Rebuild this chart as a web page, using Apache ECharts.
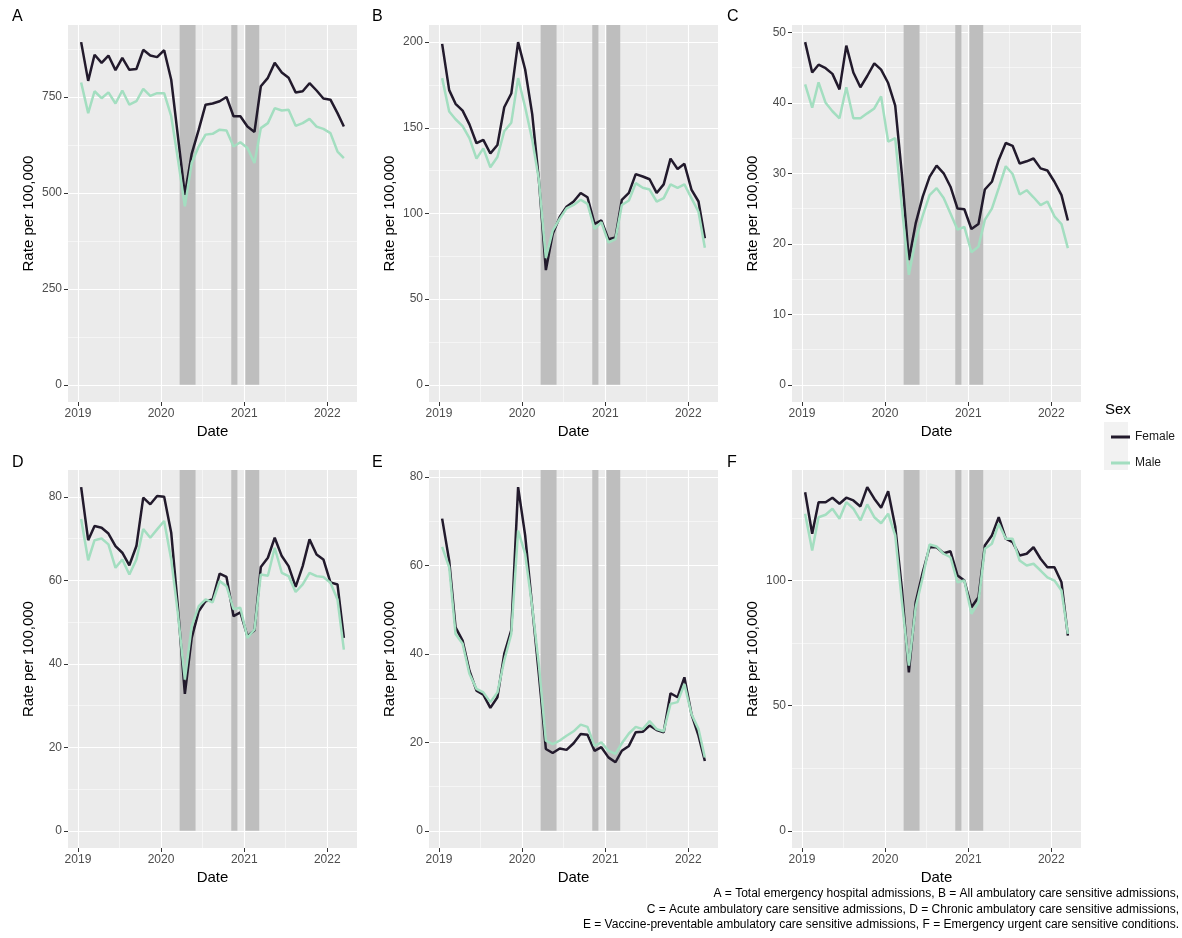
<!DOCTYPE html>
<html><head><meta charset="utf-8">
<script src="https://cdn.jsdelivr.net/npm/echarts@6/dist/echarts.min.js"></script>
<style>html,body{margin:0;padding:0;background:#fff}#c{width:1182px;height:938px}</style>
</head><body><div id="c"></div>
<script>
// ---- data ----
const months = ['2019-01','2019-02','2019-03','2019-04','2019-05','2019-06','2019-07','2019-08','2019-09','2019-10','2019-11','2019-12',
  '2020-01','2020-02','2020-03','2020-04','2020-05','2020-06','2020-07','2020-08','2020-09','2020-10','2020-11','2020-12',
  '2021-01','2021-02','2021-03','2021-04','2021-05','2021-06','2021-07','2021-08','2021-09','2021-10','2021-11','2021-12',
  '2022-01','2022-02','2022-03'];
const lockdowns = [['2020-03-23','2020-06-01'],['2020-11-05','2020-12-02'],['2021-01-06','2021-03-08']];
const yearBreaks = ['2019-01-01','2020-01-01','2021-01-01','2022-01-01'];
const yearMinorBreaks = ['2019-07-02','2020-07-02','2021-07-02'];
const panelLabels = ['A','B','C','D','E','F'];

const femaleA = [893,792,860,839,858,820,852,821,823,873,858,854, 872,795,650,495,602,665,730,733,739,750,700,700, 673,659,778,800,839,814,800,762,765,786,767,746, 743,708,673];
const maleA   = [788,708,765,747,762,733,767,730,739,771,753,760, 760,700,590,465,578,621,652,654,665,663,621,632, 617,578,669,682,721,715,717,675,682,693,673,667, 656,608,591];
const femaleB = [199,172,164,160,152,141,143,135,140,162,170,200, 184,158,120,67,88,98,104,107,112,109.5,94,96, 85,86,108,112,123,121.6,120,112,117,132,126,129, 114,107,85.6];
const maleB   = [179,159.5,155,151,144,132,138,127,133,148,153,179, 162,143,120,74,90,97,103,105,108,105.6,91,95, 83,85,105,107.6,117.7,115,114,107,109,117,115,117, 109,101,80];
const femaleC = [48.6,44.3,45.4,44.9,44.1,41.9,48.1,44.3,42.2,43.8,45.6,44.7, 42.8,39.6,30.0,17.7,22.9,26.7,29.5,31.1,30.0,28.1,25.0,24.9, 22.1,22.8,27.7,28.8,31.9,34.3,33.9,31.4,31.7,32.1,30.7,30.4, 28.8,26.9,23.3];
const maleC   = [42.6,39.3,42.9,40.0,38.8,37.8,42.2,37.8,37.8,38.5,39.2,40.9, 34.5,35.0,25.3,15.6,20.6,24.0,26.9,27.9,26.5,24.3,22.0,22.4, 18.8,19.6,23.4,25.0,27.9,31.0,29.9,27.0,27.6,26.6,25.5,26.0, 23.9,22.8,19.4];
const femaleD = [82.3,69.6,73.0,72.6,71.2,68.2,66.6,63.6,68.2,79.8,78.2,80.2, 80.0,71.4,53.8,32.8,46.2,52.6,55.0,55.4,61.6,60.8,51.4,52.3, 46.6,48.0,63.2,65.4,70.2,65.8,63.4,58.4,63.4,69.8,66.2,65.0, 59.5,59.0,46.2];
const maleD   = [74.7,64.8,69.6,70.0,68.6,63.0,65.0,61.4,65.0,72.3,70.2,72.2, 74.2,65.0,52.2,36.2,49.0,53.8,55.4,54.7,59.8,58.6,53.1,53.4, 46.2,48.2,61.4,61.1,67.8,61.8,61.0,57.2,59.0,61.8,61.0,60.8, 59.4,55.4,43.4];
const femaleE = [70.6,61.1,46.0,43.0,36.2,31.7,30.8,27.8,30.2,40.0,45.4,77.7, 66.8,50.6,35.5,18.5,17.6,18.6,18.3,19.8,21.9,21.7,18.1,18.9, 16.6,15.5,18.1,19.2,22.3,22.4,23.8,22.8,22.3,31.1,30.2,34.7, 26.4,21.5,15.8];
const maleE   = [64.2,59.6,44.5,42.3,35.5,32.1,31.3,29.1,31.3,38.5,44.5,67.9, 62.6,50.6,37.7,20.4,19.6,20.4,21.5,22.5,24.0,23.5,19.2,20.0, 18.1,17.4,19.8,22.0,23.5,23.0,24.8,23.0,22.5,28.7,29.1,33.2, 26.4,23.0,16.6];
const femaleF = [135.3,118.7,131.3,131.3,133.1,130.7,133.1,132.0,129.6,137.3,132.7,129.1, 135.7,121.6,97.0,63.3,91.3,103.3,113.3,113.3,110.9,111.7,102.0,100.0, 89.3,93.3,114.0,118.0,125.3,116.7,115.3,110.0,110.7,113.3,108.7,105.3, 105.3,99.3,78.0];
const maleF   = [126.7,112.0,125.3,126.3,128.7,124.7,131.3,128.7,124.0,130.4,125.3,122.9, 126.7,118.0,92.0,66.0,89.3,101.3,114.4,113.6,110.7,109.3,99.3,100.0, 86.7,91.3,112.7,114.7,122.7,116.7,116.7,108.0,106.0,106.7,104.0,101.3, 100.0,96.0,78.7];

const yTicksA = [0,250,500,750];       const yMinorA = [125,375,625,875];
const yTicksB = [0,50,100,150,200];    const yMinorB = [25,75,125,175];
const yTicksC = [0,10,20,30,40,50];    const yMinorC = [5,15,25,35,45];
const yTicksD = [0,20,40,60,80];       const yMinorD = [10,30,50,70];
const yTicksE = [0,20,40,60,80];       const yMinorE = [10,30,50,70];
const yTicksF = [0,50,100];            const yMinorF = [25,75,125];

const captionLines = [
  'A = Total emergency hospital admissions, B = All ambulatory care sensitive admissions,',
  'C = Acute ambulatory care sensitive admissions, D = Chronic ambulatory care sensitive admissions,',
  'E = Vaccine-preventable ambulatory care sensitive admissions, F = Emergency urgent care sensitive conditions.'
];

// ---- build ----
const FONT = '"Liberation Sans", Arial, sans-serif';
const COL_F = '#221A2C', COL_M = '#A3DEC0';
function ts(s){ const p = s.split('-').map(Number); return Date.UTC(p[0], p[1]-1, p.length > 2 ? p[2] : 15); }

const panels = [
  [femaleA, maleA, yTicksA, yMinorA], [femaleB, maleB, yTicksB, yMinorB], [femaleC, maleC, yTicksC, yMinorC],
  [femaleD, maleD, yTicksD, yMinorD], [femaleE, maleE, yTicksE, yMinorE], [femaleF, maleF, yTicksF, yMinorF]
];
const cols = [68, 429, 792], W = 289;
const rows = [[25, 377], [470, 378]];
const tagX = [12, 372, 727], tagY = [9, 455];

const t0 = ts(months[0]), t1 = ts(months[months.length-1]);
const xmin = t0 - 0.05*(t1-t0), xmax = t1 + 0.05*(t1-t0);
const xMajor = yearBreaks.map(ts), xMinor = yearMinorBreaks.map(ts);

const grid = [], xAxis = [], yAxis = [], series = [], graphic = [];
panels.forEach(([fem, mal, ticks, minor], p) => {
  const r = Math.floor(p/3), c = p % 3;
  grid.push({left: cols[c], top: rows[r][0], width: W, height: rows[r][1], backgroundColor: '#EBEBEB', show: true, borderWidth: 0, outerBoundsMode: 'none', containLabel: false});
  const dmax = Math.max(0, ...fem, ...mal);
  const ymin = -0.05*dmax, ymax = dmax*1.05;
  xAxis.push({type: 'value', gridIndex: p, min: xmin, max: xmax, position: 'bottom', scale: true,
    axisLine: {show: false, onZero: false},
    axisTick: {show: true, length: 4, customValues: xMajor, lineStyle: {color: '#333333', width: 1}},
    axisLabel: {show: true, customValues: xMajor, formatter: v => String(new Date(v).getUTCFullYear()), color: '#4D4D4D', fontSize: 12, fontFamily: FONT, margin: 6, hideOverlap: false},
    splitLine: {show: true, lineStyle: {color: '#FFFFFF', width: 1.1}},
    name: 'Date', nameLocation: 'middle', nameGap: 22, nameTextStyle: {color: '#000', fontSize: 15, fontFamily: FONT}
  });
  xAxis.push({type: 'value', gridIndex: p, min: xmin, max: xmax, position: 'bottom', scale: true,
    axisLine: {show: false, onZero: false}, axisTick: {show: false, customValues: xMinor}, axisLabel: {show: false, customValues: xMinor},
    splitLine: {show: true, lineStyle: {color: '#FFFFFF', width: 0.5}}
  });
  yAxis.push({type: 'value', gridIndex: p, min: ymin, max: ymax, position: 'left',
    axisLine: {show: false, onZero: false},
    axisTick: {show: true, length: 4, customValues: ticks, lineStyle: {color: '#333333', width: 1}},
    axisLabel: {show: true, customValues: ticks, color: '#4D4D4D', fontSize: 12, fontFamily: FONT, margin: 6},
    splitLine: {show: true, lineStyle: {color: '#FFFFFF', width: 1.1}},
    name: 'Rate per 100,000', nameLocation: 'middle', nameRotate: 90, nameGap: 32, nameTextStyle: {color: '#000', fontSize: 15, fontFamily: FONT}
  });
  yAxis.push({type: 'value', gridIndex: p, min: ymin, max: ymax, position: 'left',
    axisLine: {show: false, onZero: false}, axisTick: {show: false, customValues: minor}, axisLabel: {show: false, customValues: minor},
    splitLine: {show: true, lineStyle: {color: '#FFFFFF', width: 0.5}}
  });
  // lockdown shading
  series.push({type: 'line', name: 'lockdown', xAxisIndex: 2*p, yAxisIndex: 2*p, data: [], silent: true, z: 1,
    markArea: {silent: true, itemStyle: {color: '#BEBEBE', opacity: 1}, label: {show: false},
      data: lockdowns.map(([a, b]) => [{xAxis: ts(a), yAxis: 0}, {xAxis: ts(b), yAxis: ymax}])}
  });
  series.push({type: 'line', name: 'Female', xAxisIndex: 2*p, yAxisIndex: 2*p, z: 3,
    data: months.map((m, i) => [ts(m), fem[i]]), showSymbol: false, symbol: 'none',
    lineStyle: {color: COL_F, width: 2.5}, itemStyle: {color: COL_F}, silent: true});
  series.push({type: 'line', name: 'Male', xAxisIndex: 2*p, yAxisIndex: 2*p, z: 4,
    data: months.map((m, i) => [ts(m), mal[i]]), showSymbol: false, symbol: 'none',
    lineStyle: {color: COL_M, width: 2.5}, itemStyle: {color: COL_M}, silent: true});
  graphic.push({type: 'text', left: tagX[c], top: tagY[r], style: {text: panelLabels[p], font: '16px ' + FONT, fill: '#000'}});
});

graphic.push({type: 'text', left: 1105, top: 402, style: {text: 'Sex', font: '15px ' + FONT, fill: '#000'}});
graphic.push({type: 'rect', left: 1104, top: 422, shape: {width: 24, height: 48}, style: {fill: '#F2F2F2'}, z: -1});
captionLines.forEach((t, i) => {
  graphic.push({type: 'text', right: 3, top: 888 + i*15.5, style: {text: t, font: '12px ' + FONT, fill: '#000', textAlign: 'right'}});
});

const chart = echarts.init(document.getElementById('c'), null, {renderer: 'canvas'});
chart.setOption({
  animation: false,
  backgroundColor: '#FFFFFF',
  grid, xAxis, yAxis, series, graphic,
  legend: {data: ['Female', 'Male'], orient: 'vertical', left: 1106, top: 425, itemWidth: 19, itemHeight: 3, itemGap: 12,
    icon: 'rect', selectedMode: false, textStyle: {fontSize: 12, fontFamily: FONT, color: '#1A1A1A', lineHeight: 14}}
});
</script>
</body></html>
